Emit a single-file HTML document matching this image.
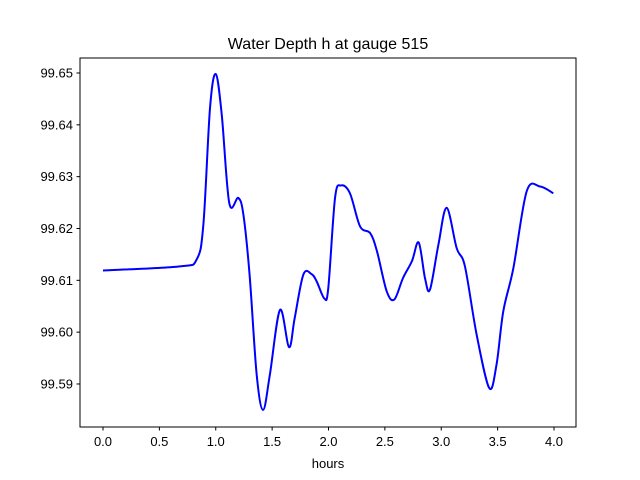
<!DOCTYPE html>
<html><head><meta charset="utf-8"><style>
body{margin:0;background:#fff}
svg{display:block;font-family:"Liberation Sans","DejaVu Sans",sans-serif}
</style></head><body>
<svg id="chart" width="640" height="480" viewBox="0 0 640 480">
<rect width="640" height="480" fill="#fff"/>
<text x="328" y="49" text-anchor="middle" font-size="16">Water Depth h at gauge 515</text>
<g id="plot"></g>
<rect x="80" y="58" width="496" height="369" fill="none" stroke="#000" stroke-width="1"/>
<text x="328" y="468" text-anchor="middle" font-size="13">hours</text>
</svg>
<script>
const hours=[0,0.683,0.83,0.89,0.949,1.0,1.053,1.12,1.2,1.245,1.30,1.363,1.42,1.48,1.57,1.65,1.70,1.777,1.85,1.895,1.963,1.998,2.058,2.11,2.19,2.28,2.37,2.43,2.516,2.584,2.66,2.74,2.80,2.856,2.90,2.975,3.048,3.137,3.21,3.314,3.426,3.49,3.55,3.64,3.758,3.876,3.994];
const depth=[99.6119,99.6127,99.6140,99.6207,99.6432,99.6498,99.6420,99.6249,99.6259,99.6227,99.6111,99.5918,99.5850,99.5918,99.6043,99.5971,99.6027,99.6111,99.6112,99.6098,99.6065,99.6085,99.6259,99.6283,99.6268,99.6204,99.6191,99.6156,99.6079,99.6063,99.6104,99.6137,99.6173,99.6104,99.6082,99.6169,99.6240,99.6162,99.6127,99.5995,99.5892,99.5937,99.6040,99.6124,99.6272,99.6281,99.6268];
const xTicks=[0,0.5,1,1.5,2,2.5,3,3.5,4];
const xTickLabels=["0.0","0.5","1.0","1.5","2.0","2.5","3.0","3.5","4.0"];
const yTicks=[99.59,99.60,99.61,99.62,99.63,99.64,99.65];
const yTickLabels=["99.59","99.60","99.61","99.62","99.63","99.64","99.65"];

const NS="http://www.w3.org/2000/svg";
const X=v=>103+v*112.75;
const Y=v=>73+(99.65-v)*5183;
const svg=document.getElementById('chart');
const plot=document.getElementById('plot');
function mk(tag,attrs,parent){const e=document.createElementNS(NS,tag);for(const k in attrs)e.setAttribute(k,attrs[k]);parent.appendChild(e);return e;}
xTicks.forEach((t,i)=>{
  const l=mk('line',{x1:X(t),x2:X(t),y1:427,y2:430.5,stroke:'#000'},svg);
  
  
  const tx=mk('text',{x:X(t),y:446,'text-anchor':'middle','font-size':13},svg);
  tx.textContent=xTickLabels[i];
  
  
});
yTicks.forEach((t,i)=>{
  const l=mk('line',{x1:76.5,x2:80,y1:Y(t),y2:Y(t),stroke:'#000'},svg);
  
  
  const tx=mk('text',{x:73,y:Y(t)+4.5,'text-anchor':'end','font-size':13},svg);
  tx.textContent=yTickLabels[i];
  
  
});
const pts=hours.map((h,i)=>[X(h),Y(depth[i])]);
let d='M'+pts[0][0]+','+pts[0][1];
for(let i=0;i<pts.length-1;i++){
  const p0=pts[Math.max(0,i-1)],p1=pts[i],p2=pts[i+1],p3=pts[Math.min(pts.length-1,i+2)];
  const c1=[p1[0]+(p2[0]-p0[0])/6,p1[1]+(p2[1]-p0[1])/6];
  const c2=[p2[0]-(p3[0]-p1[0])/6,p2[1]-(p3[1]-p1[1])/6];
  d+=` C${c1[0]},${c1[1]} ${c2[0]},${c2[1]} ${p2[0]},${p2[1]}`;
}
const path=mk('path',{d:d,fill:'none',stroke:'#0000ff','stroke-width':2,'stroke-linejoin':'round'},plot);


</script>
</body></html>
